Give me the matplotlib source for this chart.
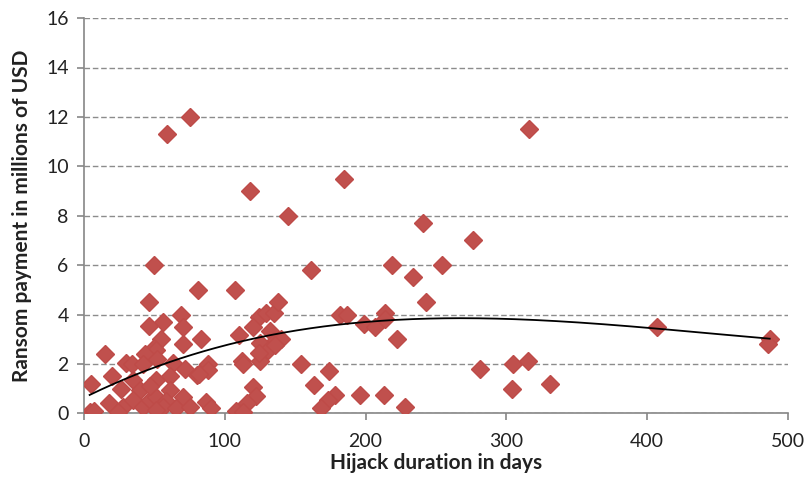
import numpy as np
import matplotlib
matplotlib.use('Agg')
import matplotlib.pyplot as plt

# Dauer der Entfuehrung (Tage) und Loesegeld (Mio USD)
days = [316, 185, 241, 276, 219, 254, 234, 243, 182, 187, 199, 207, 214, 214, 222,
        407, 487, 486, 281, 305, 315, 304, 331, 174, 178, 173, 196, 213, 228,
        59, 75, 118, 145, 50, 161, 81, 107, 154, 163, 168,
        124, 129, 135, 138, 132, 135, 140, 125, 110, 120, 112, 125, 113, 131, 124, 136,
        120, 122, 116, 108, 113,
        46, 69, 56, 46, 70, 55, 83, 70, 50, 51, 15, 43, 30, 34, 42, 63, 72, 80, 88, 88,
        82, 5, 20, 26, 35, 40, 51, 61, 61, 4, 7, 18, 28, 35, 42, 47, 24, 51, 70, 58,
        56, 65, 51, 87, 90, 75, 52, 47]
ransom = [11.5, 9.5, 7.7, 7.0, 6.0, 6.0, 5.5, 4.5, 4.0, 4.0, 3.6, 3.5, 4.05, 3.8, 3.0,
          3.5, 3.0, 2.8, 1.8, 2.0, 2.1, 1.0, 1.2, 1.7, 0.75, 0.55, 0.75, 0.75, 0.25,
          11.3, 12.0, 9.0, 8.0, 6.0, 5.8, 5.0, 5.0, 2.0, 1.15, 0.2,
          3.9, 4.05, 4.05, 4.5, 3.35, 2.9, 3.0, 2.85, 3.15, 3.5, 2.1, 2.1, 2.0, 2.55, 2.45, 2.75,
          1.08, 0.7, 0.4, 0.1, 0.05,
          4.5, 4.0, 3.7, 3.55, 3.5, 3.0, 3.0, 2.8, 2.65, 2.55, 2.4, 2.4, 2.05, 2.0, 2.0, 2.05,
          1.8, 1.55, 2.0, 1.75, 1.6, 1.2, 1.5, 1.0, 1.35, 0.95, 1.35, 1.5, 0.95, 0.05, 0.1,
          0.4, 0.27, 0.55, 0.27, 0.55, 0.05, 0.67, 0.67, 0.5, 0.27, 0.2, 0.13, 0.45, 0.2,
          0.27, 2.2, 1.1]

# Trendlinie (Polynom 3. Ordnung), Koeffizienten an die Kurve im Bild angepasst
trend_coef = [5.678e-8, -7.531e-5, 0.028117, 0.6313]

x_ticks = [0, 100, 200, 300, 400, 500]
y_ticks = [0, 2, 4, 6, 8, 10, 12, 14, 16]

plt.rcParams['font.family'] = ['Lato', 'DejaVu Sans']

fig = plt.figure(figsize=(8.09, 4.87), dpi=100)
ax = fig.add_axes([84 / 809, 1 - 413.3 / 487, 704 / 809, (413.3 - 18.1) / 487])

ax.plot(days, ransom, linestyle='none', marker='D', markersize=9.5,
        color='#C0504D', markeredgecolor='#BE4B48', zorder=3)

xs = np.linspace(min(days), max(days), 300)
ax.plot(xs, np.polyval(trend_coef, xs), color='black', lw=1.3, zorder=4)

ax.set_xlim(0, 500)
ax.set_ylim(0, 16)
ax.set_xticks(x_ticks)
ax.set_yticks(y_ticks)
ax.yaxis.grid(True, linestyle=(0, (4, 2)), color='#8C8C8C', lw=1.0)
ax.set_axisbelow(True)
for s in ['top', 'right']:
    ax.spines[s].set_visible(False)
for s in ['left', 'bottom']:
    ax.spines[s].set_color('#868686')
    ax.spines[s].set_linewidth(1.2)
ax.tick_params(axis='both', colors='#868686', length=5, width=1.2,
               labelsize=14, labelcolor='#222222')
ax.tick_params(axis='y', pad=6)
ax.tick_params(axis='x', pad=9)

ax.set_xlabel('Hijack duration in days', fontsize=15, fontweight='bold',
              color='#222222', labelpad=2)
ax.set_ylabel('Ransom payment in millions of USD', fontsize=15, fontweight='bold',
              color='#222222', labelpad=10)

fig.savefig('out.png', dpi=100)
